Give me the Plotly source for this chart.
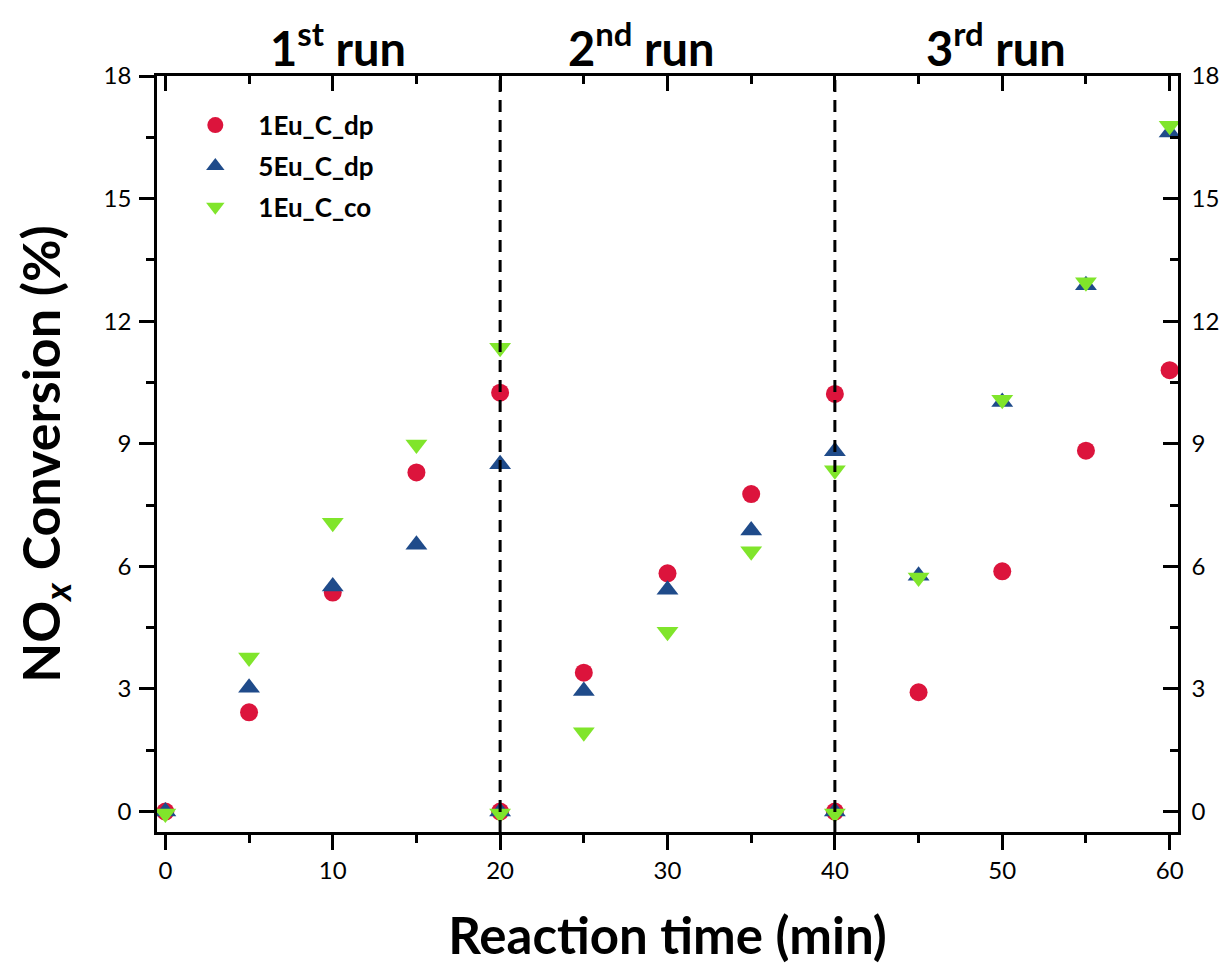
import plotly.graph_objects as go

# ---------------- data ----------------
time_min = [0, 5, 10, 15, 20, 20, 25, 30, 35, 40, 40, 45, 50, 55, 60]
eu1_dp = [0, 2.43, 5.36, 8.30, 10.25, 0, 3.40, 5.83, 7.77, 10.22, 0, 2.92, 5.88, 8.83, 10.80]
eu5_dp = [0, 3.03, 5.51, 6.53, 8.50, 0, 2.95, 5.43, 6.88, 8.82, 0, 5.77, 10.02, 12.88, 16.62]
eu1_co = [-0.05, 3.77, 7.07, 8.98, 11.35, -0.05, 1.94, 4.40, 6.37, 8.35, -0.05, 5.73, 10.08, 12.95, 16.78]
series_names = ["1Eu_C_dp", "5Eu_C_dp", "1Eu_C_co"]
run_boundaries = [20, 40]
run_labels = ["<b>1<sup>st</sup> run</b>", "<b>2<sup>nd</sup> run</b>", "<b>3<sup>rd</sup> run</b>"]
run_centers = [10.3, 28.4, 49.6]
x_ticks = [0, 10, 20, 30, 40, 50, 60]
y_ticks = [0, 3, 6, 9, 12, 15, 18]

# ---------------- styles ----------------
RED = "#DC143C"
BLUE = "#1F4B8A"
GREEN = "#80E52B"
FONT = "Lato"
LW = 2.5

fig = go.Figure()
specs = [
    (eu1_dp, series_names[0], "circle", RED, 18),
    (eu5_dp, series_names[1], "triangle-up", BLUE, 19),
    (eu1_co, series_names[2], "triangle-down", GREEN, 19),
]
for vals, name, sym, col, sz in specs:
    fig.add_trace(go.Scatter(
        x=time_min, y=vals, mode="markers", name=name, legendgroup=name,
        marker=dict(symbol=sym, color=col, size=sz, line=dict(width=0)),
    ))

# empty trace to activate the mirrored (top/right) axes
fig.add_trace(go.Scatter(x=[], y=[], xaxis="x2", yaxis="y2", showlegend=False,
                         hoverinfo="skip"))

for xb in run_boundaries:
    fig.add_shape(type="line", xref="x", yref="paper", x0=xb, x1=xb, y0=0, y1=1,
                  line=dict(color="black", width=3, dash="12px,8px"), layer="above")

for lab, xc in zip(run_labels, run_centers):
    fig.add_annotation(text=lab, x=xc, xref="x", y=1.0, yref="paper",
                       xanchor="center", yanchor="bottom", showarrow=False,
                       font=dict(family=FONT, size=47, color="black"), yshift=-2)

xr = [-0.5, 60.5]
yr = [-0.5, 18]
tickfont = dict(family=FONT, size=24, color="black")

fig.update_layout(
    width=1223, height=966,
    margin=dict(l=149, r=51, t=68, b=142),
    paper_bgcolor="white", plot_bgcolor="white",
    font=dict(family=FONT, color="black"),
    showlegend=True,
    legend=dict(x=0.015, y=0.966, xanchor="left", yanchor="top",
                bgcolor="rgba(0,0,0,0)", tracegroupgap=4, itemwidth=76,
                font=dict(family=FONT, size=26, color="black", weight="bold")),
    xaxis=dict(
        range=xr, tickvals=x_ticks, ticks="outside", ticklen=15, tickwidth=LW,
        tickcolor="black", showline=True, linewidth=LW, linecolor="black",
        showgrid=False, zeroline=False, tickfont=tickfont, ticklabelstandoff=0,
        minor=dict(dtick=5, ticks="outside", ticklen=8, tickwidth=LW, tickcolor="black",
                   showgrid=False),
        title=dict(text="<b>Reaction time (min)</b>", standoff=36,
                   font=dict(family=FONT, size=51, color="black")),
    ),
    xaxis2=dict(
        range=xr, overlaying="x", side="top", anchor="y", tickvals=x_ticks,
        ticks="inside", ticklen=15, tickwidth=LW, tickcolor="black",
        showline=True, linewidth=LW, linecolor="black", showticklabels=False,
        showgrid=False, zeroline=False,
        minor=dict(dtick=5, ticks="inside", ticklen=8, tickwidth=LW, tickcolor="black",
                   showgrid=False),
    ),
    yaxis=dict(
        range=yr, tickvals=y_ticks, ticks="outside", ticklen=15, tickwidth=LW,
        tickcolor="black", showline=True, linewidth=LW, linecolor="black",
        showgrid=False, zeroline=False, tickfont=tickfont, ticklabelstandoff=3,
        minor=dict(dtick=1.5, ticks="outside", ticklen=8, tickwidth=LW, tickcolor="black",
                   showgrid=False),
        title=dict(text="<b>NO<sub><i>x</i></sub> Conversion (%)</b>", standoff=27,
                   font=dict(family=FONT, size=52, color="black")),
    ),
    yaxis2=dict(
        range=yr, overlaying="y", side="right", anchor="x", tickvals=y_ticks,
        ticks="inside", ticklen=15, tickwidth=LW, tickcolor="black",
        showline=True, linewidth=LW, linecolor="black", showticklabels=True,
        showgrid=False, zeroline=False, tickfont=tickfont, ticklabelstandoff=6,
        minor=dict(dtick=1.5, ticks="inside", ticklen=8, tickwidth=LW, tickcolor="black",
                   showgrid=False),
    ),
)

fig.write_html("out.html")
